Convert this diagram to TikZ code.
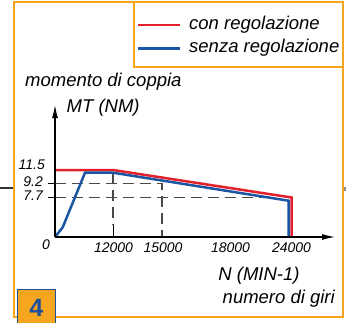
\documentclass[tikz,border=0pt]{standalone}
\usepackage{fontspec}
\setmainfont{Liberation Sans}
\usetikzlibrary{arrows.meta,positioning}
\definecolor{frameorange}{HTML}{F5A51E}
\definecolor{curvered}{HTML}{E3202C}
\definecolor{curveblue}{HTML}{1B55A3}
\definecolor{guidegray}{HTML}{4A4A4A}
\definecolor{badgeblue}{HTML}{1D4F9A}
\tikzset{%
  >={Latex[length=13pt,width=6pt]}, % axis arrows
  frame/.style={draw=frameorange, line width=2pt},%
  curve/.style={line width=2.5pt, line join=miter},%
  guide/.style={draw=guidegray, line width=1.1pt, dash pattern=on 11pt off 6pt},%
  lbl/.style={font=\itshape\fontsize{18.5}{18.5}\selectfont, inner sep=0pt},%
  ticklbl/.style={font=\itshape\fontsize{14}{14}\selectfont, inner sep=0pt},%
  badge/.style={draw=badgeblue, line width=1pt, fill=frameorange,
  minimum width=37.5pt, minimum height=37.5pt, inner sep=0pt,
  text=badgeblue, font=\bfseries\fontsize{25}{25}\selectfont}%
}
\begin{document}
\begin{tikzpicture}[x=1pt,y=-1pt] % torque curve

    \useasboundingbox (0,0) rectangle (346,322);

    \def\xO{55} % origin
    \def\yO{237}
    \def\yTop{170} % 11.5 with regulation
    \def\yA{183.7} % 9.2
    \def\yB{197.7} % 7.7

    % frame and legend box
    \draw[frame] (13.5,2) rectangle (343,317);
    \draw[frame] (134,2) -- (134,66.5) -- (343,66.5);
    \draw[line width=2pt, black!80] (0,188.3) -- (13,188.3);
    \draw[line width=2pt, black!45] (344.5,187) -- (344.5,191);

    % legend
    \coordinate (redA) at (138,25);
    \coordinate (redB) at (180,25);
    \coordinate (blueA) at (138,48.3);
    \coordinate (blueB) at (180,48.3);
    \draw[curve, curvered] (redA) -- (redB);
    \draw[curve, curveblue] (blueA) -- (blueB);
    \node[lbl, anchor=west] (con) at (189,25) {con regolazione};
    \node[lbl, anchor=west] (senza) at (189,48) {senza regolazione};

    % axes
    \coordinate (O) at (\xO,\yO);
    \coordinate (Ytip) at (\xO,105);
    \coordinate (Xtip) at (335,\yO);

    % guide lines
    \coordinate (A0) at (48,\yA);
    \coordinate (A1) at (\xO,\yA);
    \coordinate (A2) at (162,\yA);
    \coordinate (A3) at (162,\yO);
    \coordinate (B0) at (48,\yB);
    \coordinate (B1) at (\xO,\yB);
    \coordinate (B2) at (270,\yB);
    \coordinate (C1) at (113,173);
    \coordinate (C2) at (113,225);
    \coordinate (C3) at (113,\yO);
    \draw[guide] (A1) -- (A2) -- (A3);
    \draw[guide] (B1) -- (B2);
    \draw[guide] (C1) -- (C2);
    \draw[line width=1pt] (A0) -- (A1);
    \draw[line width=1pt] (B0) -- (B1);
    \draw[line width=1pt] (C2) -- (C3);

    % curves
    \coordinate (R0) at (\xO,\yTop);
    \coordinate (R1) at (113,\yTop);
    \coordinate (R2) at (291.5,197.5);
    \coordinate (R3) at (291.5,\yO);
    \draw[curve, curvered] (R0) -- (R1) -- (R2) -- (R3);

    \coordinate (B1s) at (62.7,227.3);
    \coordinate (B2s) at (85,172.7);
    \coordinate (B3s) at (113,172.7);
    \coordinate (B4s) at (288.5,200.7);
    \coordinate (B5s) at (288.5,\yO);
    \draw[curve, curveblue] (O) -- (B1s) -- (B2s) -- (B3s) -- (B4s) -- (B5s);

    \draw[->, line width=1.2pt] (O) -- (Ytip);
    \draw[->, line width=1.2pt] (O) -- (Xtip);

    % tick labels
    \node[ticklbl, anchor=east] (t115) at (45,164.5) {11.5};
    \node[ticklbl, anchor=east] (t92) at (43,181.3) {9.2};
    \node[ticklbl, anchor=east] (t77) at (43,195.5) {7.7};
    \node[ticklbl] (t0) at (46,245) {0};
    \node[ticklbl] (t12) at (113.5,248) {12000};
    \node[ticklbl] (t15) at (163,248) {15000};
    \node[ticklbl] (t18) at (230.5,248) {18000};
    \node[ticklbl] (t24) at (291.5,248) {24000};

    % axis titles
    \node[lbl, anchor=base west] (moment) at (25,86.5) {momento di coppia};
    \node[lbl, anchor=base west] (MT) at (66.5,112) {MT (NM)};
    \node[lbl, anchor=base] (N) at (259,280) {N (MIN-1)};
    \node[lbl, anchor=base east] (giri) at (335,303.5) {numero di giri};

    \node[badge] (four) at (36.25,307.75) {4};

\end{tikzpicture}
\end{document}
